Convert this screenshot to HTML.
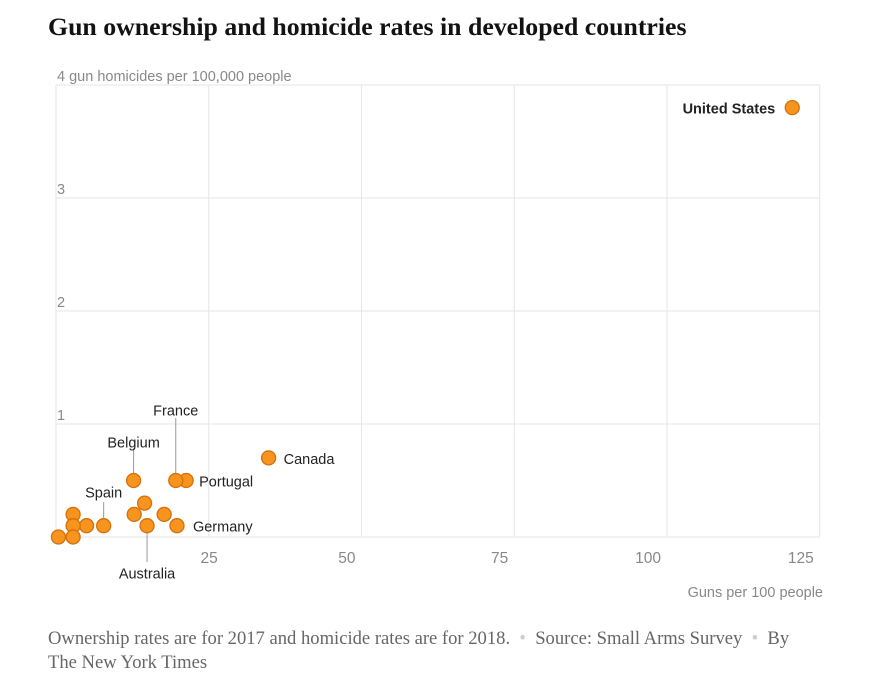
<!DOCTYPE html>
<html><head><meta charset="utf-8"><style>
body{margin:0;background:#fff;width:889px;height:688px;overflow:hidden;font-family:"Liberation Sans",sans-serif}
h1{position:absolute;left:48px;top:12px;margin:0;font-family:"Liberation Serif",serif;font-weight:bold;font-size:25.8px;color:#121212}
.note{position:absolute;left:48px;top:627px;width:760px;font-family:"Liberation Serif",serif;font-size:18.6px;color:#666;line-height:24px}
</style></head><body>
<h1>Gun ownership and homicide rates in developed countries</h1>
<svg id="c" width="889" height="688" style="position:absolute;left:0;top:0"></svg>
<div class="note">Ownership rates are for 2017 and homicide rates are for 2018. &nbsp;<span style="color:#ccc">•</span>&nbsp; Source: Small Arms Survey &nbsp;<span style="color:#ccc">•</span>&nbsp; By The New York Times</div>
<script>
const countries=["United States","Canada","France","Portugal","Belgium","Spain","Australia","Germany","c1","c2","c3","c4","c5","c6","c7"];
const guns=[120.5,34.8,19.6,21.3,12.7,7.8,14.9,19.8,0.4,2.8,2.8,2.8,5,12.8,14.5,17.7];
const rates=[3.8,0.7,0.5,0.5,0.5,0.1,0.1,0.1,0,0,0.1,0.2,0.1,0.2,0.3,0.2];
const xTicks=[25,50,75,100,125];
const yTicks=[1,2,3,4];
const x=v=>56+v*6.11, y=v=>537-v*113;
const s=document.getElementById('c'),NS='http://www.w3.org/2000/svg';
function el(t,a,txt){const e=document.createElementNS(NS,t);for(const k in a)e.setAttribute(k,a[k]);if(txt!=null)e.textContent=txt;s.appendChild(e);return e;}
for(const t of xTicks){const g=el('line',{x1:x(t),x2:x(t),y1:y(4),y2:y(0),stroke:'#e6e6e6'});


const l=el('text',{x:t===25?x(t)+9:x(t)-6,y:563,'text-anchor':'end','font-size':15.5,fill:'#888'},t);

}
el('line',{x1:x(0),x2:x(0),y1:y(4),y2:y(0),stroke:'#e6e6e6'});
for(const t of yTicks){const g=el('line',{x1:x(0),x2:x(125),y1:y(t),y2:y(t),stroke:'#e6e6e6'});


const l=el('text',{x:57,y:y(t)-4,'font-size':14.5,fill:'#888'},t===4?'4 gun homicides per 100,000 people':t);

}
el('line',{x1:x(0),x2:x(125),y1:y(0),y2:y(0),stroke:'#e6e6e6'});
const xt=el('text',{x:823,y:597,'text-anchor':'end','font-size':14.5,fill:'#888'},'Guns per 100 people');


const leaders=[[4,448],[2,418],[5,502],[6,562]];
for(const [i,ly] of leaders){const ln=el('line',{x1:x(guns[i]),x2:x(guns[i]),y1:ly,y2:y(rates[i]),stroke:'#999'});

}
for(let i=guns.length-1;i>=0;i--){const c=el('circle',{cx:x(guns[i]),cy:y(rates[i]),r:7,fill:'#f7941d',stroke:'#d46f0c','stroke-width':1.3});

}
const labels=[[0,'end',-17,6,true],[1,'start',15,6],[2,'middle',0,-65],[3,'start',13,6],[4,'middle',0,-33],[5,'middle',0,-28],[6,'middle',0,53],[7,'start',16,6]];
for(const [i,a,dx,dy,b] of labels){const t=el('text',{x:x(guns[i])+dx,y:y(rates[i])+dy,'text-anchor':a,'font-size':14.5,fill:'#222','font-weight':b?'bold':'normal'},countries[i]);

}
</script>
</body></html>
